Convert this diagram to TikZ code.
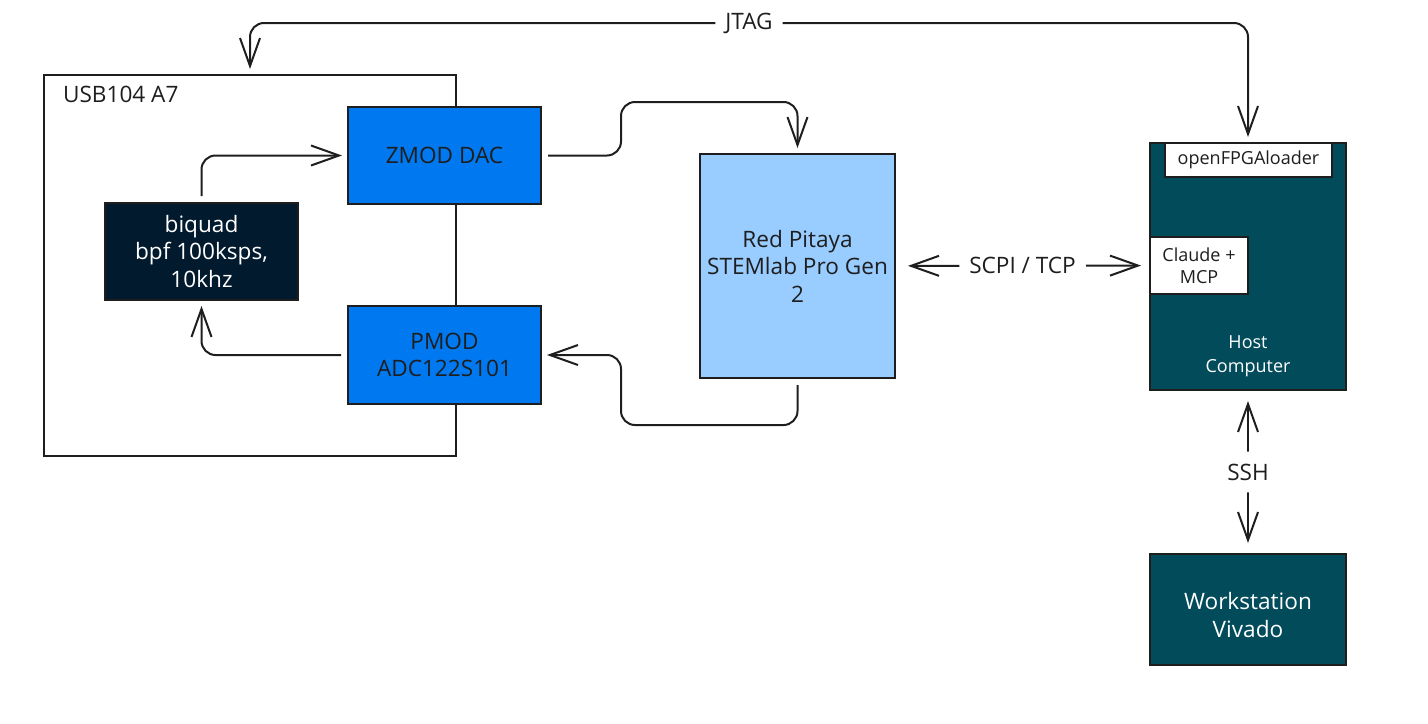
\documentclass[tikz,border=0pt]{standalone}
\usepackage{fontspec}
\setmainfont{Open Sans}
\usepackage{xcolor}
\usepackage{tikz}
\usetikzlibrary{arrows.meta, positioning}

\definecolor{edge}{HTML}{1E1E1E}
\definecolor{zblue}{HTML}{0078F0}
\definecolor{rpblue}{HTML}{99CCFF}
\definecolor{navy}{HTML}{021A2E}
\definecolor{teal}{HTML}{024B5A}

\begin{document}
\begin{tikzpicture}[x=0.5pt, y=-0.5pt,
        font=\fontsize{11.3}{13.75}\selectfont, text=edge,
        >={Straight Barb[length=14pt,width=10pt]},
        box/.style={draw=edge, line width=1pt, rectangle, align=center, inner sep=2pt},
        link/.style={draw=edge, line width=1pt, rounded corners=7pt, shorten >=2.5pt, shorten <=3pt}]
        \useasboundingbox (0,0) rectangle (1428,723);

        % Placa USB104 A7
        \node[box, minimum width=206pt, minimum height=190.5pt] (usb) at (250,265.5) {};
        \node[anchor=west] (usblbl) at (56,94) {USB104 A7};
        \node[box, fill=zblue, minimum width=96.5pt, minimum height=48.5pt] (zmod) at (444.5,155.5) {ZMOD DAC};
        \node[box, fill=zblue, minimum width=96.5pt, minimum height=49pt] (pmod) at (444.5,355) {PMOD\\ADC122S101};
        \node[box, fill=navy, text=white, minimum width=96.5pt, minimum height=48.5pt] (bq) at (201.5,251.5) {biquad\\bpf 100ksps,\\10khz};
        \draw[link, ->] (bq) |- (zmod);
        \draw[link, ->] (pmod) -| (bq);

        % Red Pitaya
        \node[box, fill=rpblue, minimum width=97.5pt, minimum height=112pt] (rp) at (797.5,266) {Red Pitaya\\STEMlab Pro Gen\\2};
        \draw[link, ->] (zmod) -- (621,155.5) -- (621,102) -| (rp);
        \draw[link, ->] (rp) -- (797.5,425) -- (621,425) -- (621,355) -- (pmod);

        % Host
        \node[box, fill=teal, minimum width=98pt, minimum height=123.5pt] (host) at (1248,266.5) {};
        \node[box, fill=white, font=\fontsize{9}{11}\selectfont, minimum width=83.5pt, minimum height=17pt] (ofl) at (1248.5,160) {openFPGAloader};
        \node[box, fill=white, font=\fontsize{9}{11}\selectfont, minimum width=49pt, minimum height=28.5pt] (claude) at (1199,265.5) {Claude +\\MCP};
        \node[text=white, align=center, font=\fontsize{9}{12}\selectfont] (hostlbl) at (1248,356) {Host\\Computer};

        % Workstation
        \node[box, fill=teal, minimum width=98pt, minimum height=55.5pt] (ws) at (1248,609.5) {};
        \node[text=white, align=center, font=\fontsize{11.3}{14}\selectfont] (wslbl) at (1248,615) {Workstation\\Vivado};

        % Ligacoes
        \coordinate (jtagin) at (250,75);
        \draw[link, <->] (jtagin) -- (250,23) -- node[fill=white, inner xsep=5pt]{JTAG} (1248,23) -- (host.north);
        \draw[link, <->, shorten <=6pt, shorten >=4pt] (rp) -- node[fill=white, inner xsep=5pt]{SCPI / TCP} (claude);
        \draw[link, <->, shorten <=5pt, shorten >=5pt] (host) -- node[fill=white, inner ysep=6pt]{SSH} (ws);
\end{tikzpicture}
\end{document}
